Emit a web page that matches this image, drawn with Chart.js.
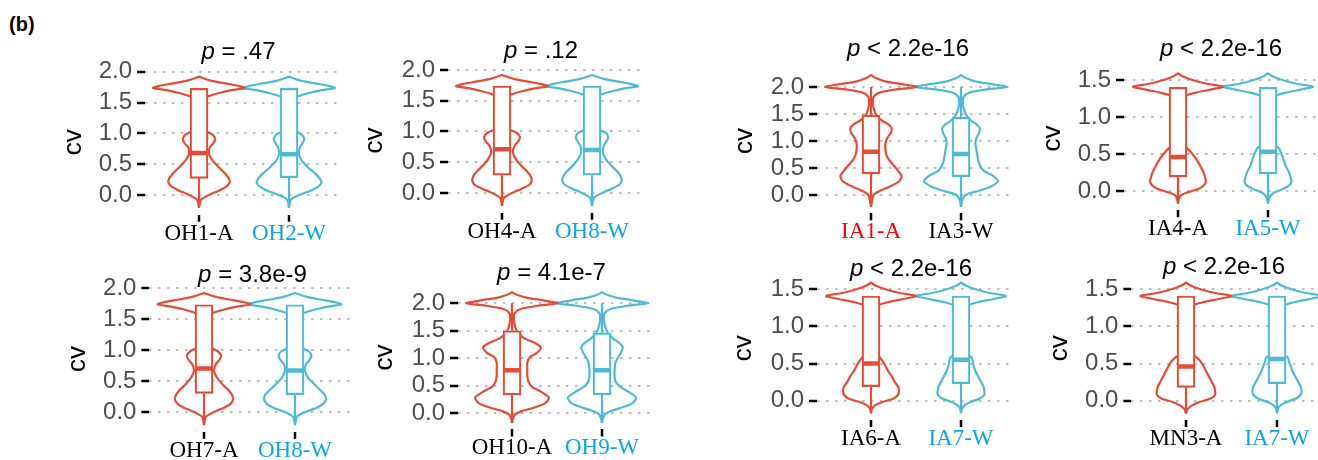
<!DOCTYPE html>
<html><head><meta charset="utf-8">
<script src="https://cdn.jsdelivr.net/npm/chart.js@4.4.1/dist/chart.umd.min.js"></script>
<style>
html,body{margin:0;padding:0;background:#fff;overflow:hidden;width:1318px;height:460px;position:relative;}
canvas{position:absolute;}
.ttl{position:absolute;font-family:'Liberation Sans',Arial,sans-serif;font-size:24px;white-space:nowrap;transform:translate(-50%,-50%);line-height:1;color:#000;}
.tag{position:absolute;left:9px;top:12px;font-family:'Liberation Sans',Arial,sans-serif;font-weight:bold;font-size:20px;line-height:24px;}
</style></head><body>
<div class="tag">(b)</div>
<script>
// ---------------- data ----------------
const ticksTo2 = [0, 0.5, 1, 1.5, 2];
const ticksTo15 = [0, 0.5, 1, 1.5];

// density sample heights (cv) shared by similar panels
const ysOH  = [-0.21,-0.12,-0.07,-0.03,0.02,0.07,0.13,0.2,0.27,0.35,0.45,0.56,0.67,0.77,0.84,0.91,0.98,1.04,1.1,1.25,1.45,1.55,1.6,1.65,1.7,1.735,1.77,1.81,1.86,1.92];
const ysIA2 = [-0.22,-0.12,-0.04,0.02,0.08,0.15,0.25,0.35,0.45,0.55,0.65,0.75,0.85,0.95,1.05,1.15,1.23,1.3,1.38,1.45,1.55,1.7,1.82,1.9,1.96,2.0,2.05,2.1,2.16,2.22];
const ysOH2 = [-0.18,-0.1,-0.03,0.03,0.1,0.18,0.28,0.38,0.48,0.58,0.68,0.8,0.92,1.02,1.1,1.2,1.28,1.36,1.45,1.55,1.7,1.82,1.9,1.96,2.0,2.05,2.1,2.15,2.2];
const ysIA15 = [-0.17,-0.11,-0.06,-0.02,0.03,0.08,0.13,0.19,0.26,0.33,0.4,0.47,0.53,0.58,0.63,0.75,1.0,1.2,1.28,1.33,1.37,1.41,1.45,1.5,1.55,1.59];

// Panel 1
const p1Cats = ['OH1-A', 'OH2-W'];
const p1P = '= .47';
const p1VioA = [0,0.01,0.025,0.07,0.14,0.22,0.3,0.34,0.33,0.29,0.22,0.15,0.11,0.12,0.16,0.18,0.15,0.07,0.03,0.02,0.03,0.05,0.1,0.21,0.36,0.51,0.44,0.29,0.12,0];
const p1VioW = [0,0.01,0.025,0.07,0.15,0.24,0.32,0.36,0.34,0.29,0.21,0.14,0.11,0.12,0.15,0.17,0.14,0.07,0.03,0.02,0.03,0.05,0.1,0.21,0.36,0.51,0.44,0.29,0.12,0];
const p1BoxA = [-0.2, 0.27, 0.68, 1.73, 1.73];   // low, q1, median, q3, high
const p1BoxW = [-0.2, 0.28, 0.66, 1.73, 1.73];

// Panel 2
const p2Cats = ['OH4-A', 'OH8-W'];
const p2P = '= .12';
const p2VioA = [0,0.01,0.025,0.07,0.14,0.22,0.3,0.33,0.32,0.28,0.21,0.15,0.12,0.14,0.18,0.2,0.16,0.07,0.03,0.02,0.03,0.05,0.1,0.21,0.36,0.51,0.44,0.29,0.12,0];
const p2VioW = [0,0.01,0.025,0.07,0.14,0.22,0.3,0.33,0.32,0.28,0.21,0.15,0.12,0.13,0.16,0.18,0.15,0.07,0.03,0.02,0.03,0.05,0.1,0.21,0.36,0.51,0.44,0.29,0.12,0];
const p2BoxA = [-0.2, 0.29, 0.71, 1.74, 1.74];
const p2BoxW = [-0.2, 0.29, 0.70, 1.74, 1.74];

// Panel 3
const p3Cats = ['IA1-A', 'IA3-W'];
const p3P = '< 2.2e-16';
const p3VioA = [0,0.01,0.02,0.04,0.1,0.2,0.31,0.34,0.3,0.25,0.2,0.17,0.16,0.16,0.18,0.22,0.23,0.2,0.12,0.07,0.04,0.02,0.03,0.1,0.3,0.51,0.36,0.17,0.06,0];
const p3VioW = [0,0.01,0.03,0.07,0.2,0.32,0.41,0.36,0.25,0.21,0.19,0.18,0.17,0.16,0.17,0.2,0.21,0.18,0.11,0.07,0.04,0.02,0.03,0.1,0.3,0.51,0.36,0.17,0.06,0];
const p3BoxA = [-0.2, 0.39, 0.80, 1.48, 2.0];
const p3BoxW = [-0.2, 0.34, 0.76, 1.44, 2.0];

// Panel 4
const p4Cats = ['IA4-A', 'IA5-W'];
const p4P = '< 2.2e-16';
const p4VioA = [0,0.01,0.03,0.1,0.23,0.29,0.31,0.3,0.28,0.25,0.22,0.18,0.14,0.1,0.05,0.03,0.02,0.03,0.07,0.2,0.36,0.5,0.32,0.16,0.05,0];
const p4VioW = [0,0.01,0.03,0.07,0.17,0.24,0.26,0.25,0.23,0.2,0.18,0.16,0.14,0.12,0.06,0.03,0.02,0.03,0.07,0.2,0.36,0.5,0.32,0.16,0.05,0];
const p4BoxA = [-0.17, 0.19, 0.46, 1.40, 1.40];
const p4BoxW = [-0.17, 0.23, 0.53, 1.40, 1.40];

// Panel 5
const p5Cats = ['OH7-A', 'OH8-W'];
const p5P = '= 3.8e-9';
const p5VioA = [0,0.01,0.025,0.07,0.14,0.22,0.29,0.32,0.31,0.27,0.2,0.14,0.11,0.13,0.17,0.19,0.15,0.07,0.03,0.02,0.03,0.05,0.1,0.21,0.36,0.51,0.44,0.29,0.12,0];
const p5VioW = [0,0.01,0.025,0.07,0.15,0.24,0.31,0.34,0.33,0.28,0.21,0.14,0.11,0.12,0.16,0.18,0.15,0.07,0.03,0.02,0.03,0.05,0.1,0.21,0.36,0.51,0.44,0.29,0.12,0];
const p5BoxA = [-0.2, 0.30, 0.70, 1.73, 1.73];
const p5BoxW = [-0.2, 0.28, 0.67, 1.73, 1.73];

// Panel 6
const p6Cats = ['OH10-A', 'OH9-W'];
const p6P = '= 4.1e-7';
const p6VioA = [0,0.01,0.03,0.1,0.25,0.37,0.41,0.33,0.22,0.18,0.17,0.17,0.17,0.2,0.28,0.32,0.25,0.14,0.07,0.04,0.02,0.03,0.1,0.3,0.51,0.36,0.17,0.06,0];
const p6VioW = [0,0.01,0.03,0.09,0.22,0.34,0.38,0.3,0.2,0.15,0.14,0.14,0.15,0.18,0.21,0.23,0.19,0.12,0.07,0.04,0.02,0.03,0.1,0.3,0.51,0.36,0.17,0.06,0];
const p6BoxA = [-0.18, 0.33, 0.78, 1.50, 2.0];
const p6BoxW = [-0.18, 0.33, 0.78, 1.46, 2.0];

// Panel 7
const p7Cats = ['IA6-A', 'IA7-W'];
const p7P = '< 2.2e-16';
const p7VioA = [0,0.01,0.05,0.12,0.25,0.3,0.31,0.3,0.26,0.23,0.19,0.16,0.13,0.1,0.06,0.03,0.02,0.03,0.07,0.2,0.36,0.5,0.32,0.16,0.05,0];
const p7VioW = [0,0.01,0.04,0.1,0.21,0.26,0.26,0.25,0.22,0.19,0.16,0.14,0.13,0.12,0.06,0.03,0.02,0.03,0.07,0.2,0.36,0.5,0.32,0.16,0.05,0];
const p7BoxA = [-0.17, 0.19, 0.50, 1.41, 1.41];
const p7BoxW = [-0.17, 0.23, 0.55, 1.41, 1.41];

// Panel 8
const p8Cats = ['MN3-A', 'IA7-W'];
const p8P = '< 2.2e-16';
const p8VioA = [0,0.02,0.07,0.14,0.27,0.32,0.32,0.31,0.28,0.25,0.22,0.19,0.16,0.12,0.05,0.03,0.02,0.03,0.07,0.2,0.36,0.5,0.32,0.16,0.05,0];
const p8VioW = [0,0.01,0.04,0.1,0.21,0.26,0.27,0.26,0.23,0.2,0.17,0.15,0.13,0.12,0.06,0.03,0.02,0.03,0.07,0.2,0.36,0.5,0.32,0.16,0.05,0];
const p8BoxA = [-0.17, 0.18, 0.46, 1.41, 1.41];
const p8BoxW = [-0.17, 0.23, 0.56, 1.41, 1.41];

// ---------------- styles / layout ----------------
const RED = '#E64B35', BLUE = '#4DBBD5';
const TXT_BLACK = '#000000', TXT_BLUE = '#0AA7E8', TXT_RED = '#FF0000';

const panels = [
  {cats:p1Cats, p:p1P, ys:ysOH,  vA:p1VioA, vW:p1VioW, bA:p1BoxA, bW:p1BoxW, ticks:ticksTo2,  lc:[TXT_BLACK,TXT_BLUE], ymin:-0.32, ymax:2.03, cx:[199,289],  yref:[[2,71.7],[0,195]],    cvX:75.5, title:[238.5,53]},
  {cats:p2Cats, p:p2P, ys:ysOH,  vA:p2VioA, vW:p2VioW, bA:p2BoxA, bW:p2BoxW, ticks:ticksTo2,  lc:[TXT_BLACK,TXT_BLUE], ymin:-0.32, ymax:2.03, cx:[502,592],  yref:[[2,70],[0,193]],      cvX:377,  title:[541,52]},
  {cats:p3Cats, p:p3P, ys:ysIA2, vA:p3VioA, vW:p3VioW, bA:p3BoxA, bW:p3BoxW, ticks:ticksTo2,  lc:[TXT_RED,TXT_BLACK],  ymin:-0.34, ymax:2.34, cx:[871,961],  yref:[[2,87],[0,195]],      cvX:747,  title:[908,50]},
  {cats:p4Cats, p:p4P, ys:ysIA15,vA:p4VioA, vW:p4VioW, bA:p4BoxA, bW:p4BoxW, ticks:ticksTo15, lc:[TXT_BLACK,TXT_BLUE], ymin:-0.26, ymax:1.68, cx:[1178,1268],yref:[[1.5,80],[0,191]],    cvX:1055, title:[1221,50]},
  {cats:p5Cats, p:p5P, ys:ysOH,  vA:p5VioA, vW:p5VioW, bA:p5BoxA, bW:p5BoxW, ticks:ticksTo2,  lc:[TXT_BLACK,TXT_BLUE], ymin:-0.32, ymax:2.03, cx:[204,295],  yref:[[2,288],[0,412]],     cvX:80,   title:[252.5,276]},
  {cats:p6Cats, p:p6P, ys:ysOH2, vA:p6VioA, vW:p6VioW, bA:p6BoxA, bW:p6BoxW, ticks:ticksTo2,  lc:[TXT_BLACK,TXT_BLUE], ymin:-0.30, ymax:2.32, cx:[512,602],  yref:[[2,303.3],[0,413]],   cvX:387,  title:[551.5,274]},
  {cats:p7Cats, p:p7P, ys:ysIA15,vA:p7VioA, vW:p7VioW, bA:p7BoxA, bW:p7BoxW, ticks:ticksTo15, lc:[TXT_BLACK,TXT_BLUE], ymin:-0.26, ymax:1.67, cx:[871,961],  yref:[[1.5,289.3],[0,400.7]],cvX:746, title:[911,270]},
  {cats:p8Cats, p:p8P, ys:ysIA15,vA:p8VioA, vW:p8VioW, bA:p8BoxA, bW:p8BoxW, ticks:ticksTo15, lc:[TXT_BLACK,TXT_BLUE], ymin:-0.26, ymax:1.67, cx:[1186,1277],yref:[[1.5,289.3],[0,400.7]],cvX:1062, title:[1224,268]}
];

function violinPts(c, ys, ws) {
  const right = ys.map((y, i) => ({x: c + ws[i], y}));
  const left = ys.map((y, i) => ({x: c - ws[i], y})).reverse();
  return right.concat(left);
}
function whiskerPts(c, b) {
  return [{x:c, y:b[0]}, {x:c, y:b[1]}, {x:c, y:null}, {x:c, y:b[3]}, {x:c, y:b[4]}];
}

function makePanel(cfg) {
  const ux = cfg.cx[1] - cfg.cx[0];
  const L = cfg.cx[0] - 0.6 * ux, R = cfg.cx[1] + 0.6 * ux;
  const uy = (cfg.yref[1][1] - cfg.yref[0][1]) / (cfg.yref[0][0] - cfg.yref[1][0]);
  const py = v => cfg.yref[1][1] - (v - cfg.yref[1][0]) * uy;
  const T = py(cfg.ymax), B = py(cfg.ymin);
  const XH = 50, TS = 26;
  const cl = Math.round(cfg.cvX - 2 - TS / 2);
  const ct = Math.floor(T) - 14;
  const yW = L - cl;
  const cw = Math.ceil(R - cl) + 2;
  const ch = Math.ceil(B - ct + XH) + 2;
  const pad = {left: 0, top: T - ct, right: cw - (R - cl), bottom: ch - XH - (B - ct)};

  const canvas = document.createElement('canvas');
  canvas.width = cw; canvas.height = ch;
  canvas.style.left = cl + 'px'; canvas.style.top = ct + 'px';
  canvas.style.width = cw + 'px'; canvas.style.height = ch + 'px';
  document.body.appendChild(canvas);

  const t = document.createElement('div');
  t.className = 'ttl';
  t.style.left = cfg.title[0] + 'px';
  t.style.top = (cfg.title[1] - 2) + 'px';
  const it = document.createElement('i'); it.textContent = 'p';
  t.appendChild(it);
  t.appendChild(document.createTextNode(' ' + cfg.p));
  document.body.appendChild(t);

  const lineDs = (data, color, order) => ({type:'scatter', showLine:true, data, borderColor:color, borderWidth:2.2,
      pointRadius:0, pointHoverRadius:0, tension:0.25, fill:false, spanGaps:false, order});

  new Chart(canvas, {
    type: 'scatter',
    data: {datasets: [
      lineDs(violinPts(1, cfg.ys, cfg.vA), RED, 4),
      lineDs(violinPts(2, cfg.ys, cfg.vW), BLUE, 4),
      lineDs(whiskerPts(1, cfg.bA), RED, 3),
      lineDs(whiskerPts(2, cfg.bW), BLUE, 3),
      {type:'bar', data:[{x:1, y:[cfg.bA[1], cfg.bA[3]]}, {x:2, y:[cfg.bW[1], cfg.bW[3]]}],
       backgroundColor:'#ffffff', borderColor:[RED, BLUE], borderWidth:2.2, borderSkipped:false,
       barThickness:18, grouped:false, order:2},
      {type:'scatter', data:[{x:1, y:cfg.bA[2]}, {x:2, y:cfg.bW[2]}], showLine:false,
       pointStyle:'line', pointRadius:9, pointHoverRadius:9, pointBorderWidth:4.5, pointBorderColor:[RED, BLUE], order:1}
    ]},
    options: {
      responsive:false, animation:false, events:[],
      layout:{padding:pad, autoPadding:false},
      plugins:{legend:{display:false}, tooltip:{enabled:false}, title:{display:false}},
      scales: {
        x: {type:'linear', min:0.4, max:2.6, offset:false,
            afterBuildTicks: s => { s.ticks = [{value:1}, {value:2}]; },
            afterFit: s => { s.height = XH; s.paddingLeft = 0; s.paddingRight = 0; },
            grid:{offset:false, drawOnChartArea:false, drawTicks:true, tickLength:7, tickColor:'#000', tickWidth:2.5, lineWidth:0},
            border:{display:false},
            ticks:{padding:-2, autoSkip:false, maxRotation:0, minRotation:0,
                   font:{family:"'Liberation Serif', 'Times New Roman', serif", size:23},
                   color: ctx => cfg.lc[ctx.index],
                   callback: (v, i) => cfg.cats[i]}},
        y: {type:'linear', min:cfg.ymin, max:cfg.ymax, offset:false,
            afterBuildTicks: s => { s.ticks = cfg.ticks.map(v => ({value:v})); },
            afterFit: s => { s.width = yW; s.paddingTop = 0; s.paddingBottom = 0; },
            grid:{offset:false, color:'#BEBEBE', lineWidth:2, drawTicks:true, tickLength:8, tickColor:'#000', tickWidth:2.5, tickBorderDash:[]},
            border:{display:false, dash:[2.5, 6.5]},
            ticks:{padding:5, autoSkip:false, color:'#4D4D4D',
                   font:{family:"'Liberation Sans', Arial, sans-serif", size:24},
                   callback: v => Number(v).toFixed(1)},
            title:{display:true, text:'cv', color:'#000', padding:0,
                   font:{family:"'Liberation Sans', Arial, sans-serif", size:TS, lineHeight:1}}}
      }
    }
  });
}

panels.forEach(makePanel);
</script>
</body></html>
